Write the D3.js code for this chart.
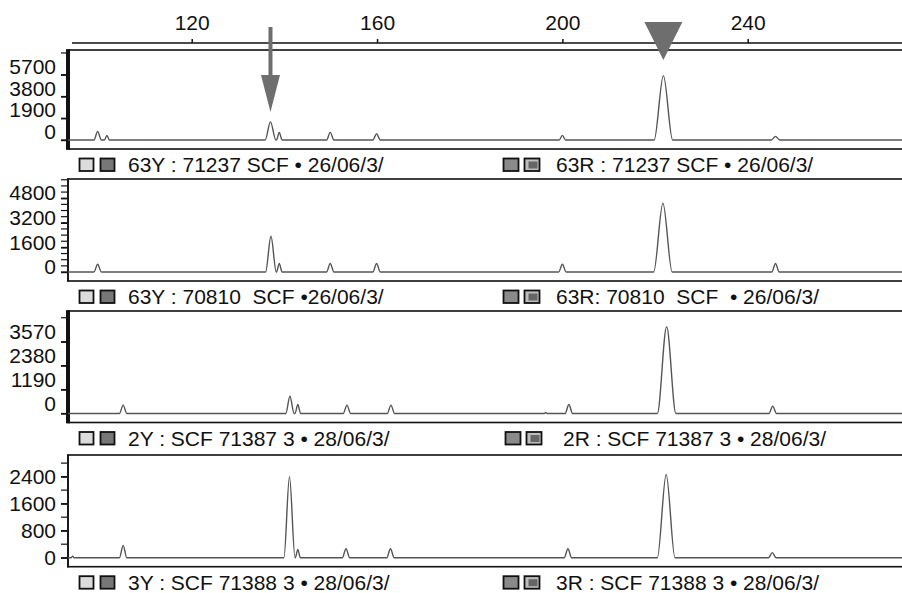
<!DOCTYPE html>
<html><head><meta charset="utf-8">
<script src="https://cdn.jsdelivr.net/npm/d3@7"></script>
<style>
body{margin:0;background:#fff}
svg{display:block;font-family:"Liberation Sans",Arial,Helvetica,sans-serif}
</style>
</head><body>
<svg id="c" width="902" height="593"></svg>
<script>
// ---- data ----
const sizeTicks = [120, 160, 200, 240];
const sizeDomain = [93.3, 273.3];
const arrowMarkers = [137.0];
const triangleMarkers = [221.8];

const p1Pos = [99.7, 101.7, 137.0, 138.9, 149.9, 159.9, 200.0, 221.8, 246.0];
const p1Val = [750, 400, 1580, 665, 665, 545, 400, 5620, 320];
const p1Wid = [0.8, 0.55, 1.15, 0.6, 0.8, 0.8, 0.7, 2.0, 0.9];
const p1Ticks = [0, 1900, 3800, 5700];

const p2Pos = [99.7, 137.1, 138.9, 149.9, 159.9, 200.0, 221.7, 246.0];
const p2Val = [500, 2330, 550, 550, 550, 500, 4470, 550];
const p2Wid = [0.8, 1.15, 0.6, 0.8, 0.8, 0.8, 2.0, 0.8];
const p2Ticks = [0, 1600, 3200, 4800];

const p3Pos = [105.2, 141.2, 142.9, 153.5, 163.0, 196.4, 201.4, 222.5, 245.4];
const p3Val = [415, 860, 450, 415, 415, 50, 450, 4320, 365];
const p3Wid = [0.8, 0.9, 0.6, 0.8, 0.8, 0.3, 0.8, 2.0, 0.8];
const p3Ticks = [0, 1190, 2380, 3570];

const p4Pos = [94.3, 105.2, 141.1, 142.9, 153.3, 162.9, 201.2, 222.4, 245.3];
const p4Val = [45, 365, 2400, 245, 265, 265, 265, 2465, 150];
const p4Wid = [0.3, 0.8, 1.2, 0.55, 0.8, 0.8, 0.8, 1.9, 0.8];
const p4Ticks = [0, 800, 1600, 2400];

const leftLabels = ["63Y : 71237 SCF \u2022 26/06/3/", "63Y : 70810  SCF \u202226/06/3/", "2Y : SCF 71387 3 \u2022 28/06/3/", "3Y : SCF 71388 3 \u2022 28/06/3/"];
const rightLabels = ["63R : 71237 SCF \u2022 26/06/3/", "63R: 70810  SCF  \u2022 26/06/3/", "2R : SCF 71387 3 \u2022 28/06/3/", "3R : SCF 71388 3 \u2022 28/06/3/"];

// ---- layout ----
const svg = d3.select("#c");
const x = d3.scaleLinear().domain(sizeDomain).range([68, 902]);
const FS = 21;

const panels = [
  {pos:p1Pos, val:p1Val, wid:p1Wid, ticks:p1Ticks, step:1900, max:7860, top:50, bottom:149, thick:4, labDy:-8, rx:503, rtx:556},
  {pos:p2Pos, val:p2Val, wid:p2Wid, ticks:p2Ticks, step:400, max:6050, top:179, bottom:281, thick:1.6, labDy:-5, rx:503, rtx:556},
  {pos:p3Pos, val:p3Val, wid:p3Wid, ticks:p3Ticks, step:1190, max:5095, top:311, bottom:422.5, thick:4, labDy:-10, rx:505, rtx:563},
  {pos:p4Pos, val:p4Val, wid:p4Wid, ticks:p4Ticks, step:400, max:3040, top:455, bottom:566.7, thick:1.6, labDy:0, rx:503, rtx:556}
];

// top axis
const topAxis = d3.axisTop(x).tickValues(sizeTicks).tickSize(4).tickSizeOuter(0).tickPadding(9);
const gTop = svg.append("g").attr("transform", "translate(0,43)").call(topAxis);
gTop.select(".domain").attr("stroke", "#111").attr("stroke-width", 1.6).attr("d", "M72,0H902");
gTop.selectAll(".tick line").attr("stroke", "#111").attr("stroke-width", 1.5);
gTop.selectAll(".tick text").attr("font-size", FS).attr("fill", "#111").attr("font-family", "Liberation Sans, Arial, sans-serif");

panels.forEach((p, i) => {
  const base = p.bottom - 9;
  const y = d3.scaleLinear().domain([0, p.max]).range([base, p.top]);
  const g = svg.append("g");

  // frame
  g.append("rect").attr("x", 68).attr("y", p.top).attr("width", 840).attr("height", p.bottom - p.top)
    .attr("fill", "#fff").attr("stroke", "#111").attr("stroke-width", 1.6);
  g.append("line").attr("x1", 68).attr("x2", 68).attr("y1", p.top - 0.8).attr("y2", p.bottom + 0.8)
    .attr("stroke", "#111").attr("stroke-width", p.thick);

  // minor ticks
  const all = d3.range(0, p.max, p.step);
  g.selectAll("line.minor").data(all).join("line").attr("class", "minor")
    .attr("x1", 61).attr("x2", 67).attr("y1", d => y(d)).attr("y2", d => y(d))
    .attr("stroke", "#111").attr("stroke-width", 1.2);

  // labeled axis
  const ax = d3.axisLeft(y).tickValues(p.ticks).tickSize(6).tickSizeOuter(0).tickPadding(5).tickFormat(d3.format("d"));
  const ga = g.append("g").attr("transform", "translate(67,0)").call(ax);
  ga.select(".domain").remove();
  ga.selectAll(".tick line").attr("stroke", "#111").attr("stroke-width", 1.4);
  ga.selectAll(".tick text").attr("font-size", FS).attr("fill", "#111")
    .attr("font-family", "Liberation Sans, Arial, sans-serif")
    .attr("dy", (0.32 * FS + p.labDy) + "px");

  // trace points
  const pts = [[sizeDomain[0], 0]];
  p.pos.forEach((c, k) => {
    pts.push([c - p.wid[k], 0], [c, p.val[k]], [c + p.wid[k], 0]);
  });
  pts.push([sizeDomain[1], 0]);
  const line = d3.line().x(d => x(d[0])).y(d => y(d[1])).curve(d3.curveMonotoneX);
  g.append("path").attr("d", line(pts)).attr("fill", "none").attr("stroke", "#555").attr("stroke-width", 1.4);

  // label row
  const ty = p.bottom + 23;
  const lab = svg.append("g");
  lab.append("rect").attr("x", 79.5).attr("y", ty - 13.5).attr("width", 14).attr("height", 12.5)
    .attr("fill", "#dcdcdc").attr("stroke", "#111").attr("stroke-width", 1.8);
  lab.append("rect").attr("x", 100.5).attr("y", ty - 13.5).attr("width", 14).attr("height", 12.5)
    .attr("fill", "#777").attr("stroke", "#111").attr("stroke-width", 1.8);
  lab.append("text").attr("x", 128).attr("y", ty).attr("font-size", FS).attr("fill", "#111")
    .style("white-space", "pre").text(leftLabels[i]);

  lab.append("rect").attr("x", p.rx + 0.5).attr("y", ty - 13.5).attr("width", 15).attr("height", 12.5)
    .attr("fill", "#8a8a8a").attr("stroke", "#111").attr("stroke-width", 1.8);
  lab.append("rect").attr("x", p.rx + 21.5).attr("y", ty - 13.5).attr("width", 15).attr("height", 12.5)
    .attr("fill", "#bdbdbd").attr("stroke", "#111").attr("stroke-width", 1.8);
  lab.append("rect").attr("x", p.rx + 25.5).attr("y", ty - 10.5).attr("width", 9).attr("height", 7)
    .attr("fill", "#666");
  lab.append("text").attr("x", p.rtx).attr("y", ty).attr("font-size", FS).attr("fill", "#111")
    .style("white-space", "pre").text(rightLabels[i]);
});

// annotations: arrow & triangle
const ann = svg.append("g").attr("fill", "#6e6e6e");
arrowMarkers.forEach(v => {
  const cx = x(v);
  ann.append("rect").attr("x", cx - 2).attr("y", 27).attr("width", 4).attr("height", 50);
  ann.append("path").attr("d", `M${cx - 9.5},75L${cx + 9.5},75L${cx},112Z`);
});
triangleMarkers.forEach(v => {
  const cx = x(v);
  ann.append("path").attr("d", `M${cx - 19},22L${cx + 19},22L${cx},60Z`);
});
</script>
</body></html>
